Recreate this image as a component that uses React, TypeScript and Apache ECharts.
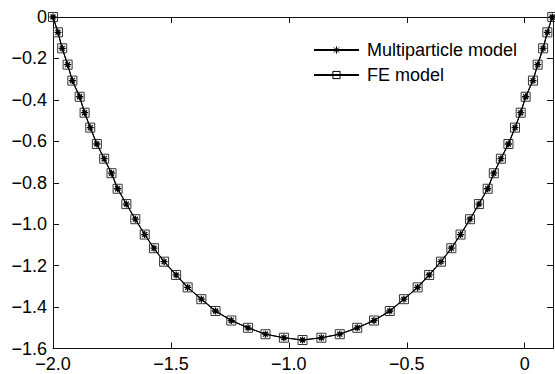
import React, { useEffect, useRef } from "react";
import * as echarts from "echarts";

// x positions (51 nodes along the curve)
const xValues = [
  -2.0, -1.979, -1.961, -1.938, -1.918, -1.887, -1.866, -1.842, -1.814, -1.783,
  -1.752, -1.726, -1.689, -1.651, -1.611, -1.572, -1.529, -1.478, -1.429, -1.371,
  -1.311, -1.244, -1.173, -1.099, -1.021, -0.942, -0.862, -0.784, -0.71, -0.639,
  -0.572, -0.512, -0.454, -0.405, -0.355, -0.311, -0.272, -0.232, -0.194, -0.157,
  -0.131, -0.101, -0.069, -0.041, -0.017, 0.004, 0.035, 0.055, 0.078, 0.096, 0.117,
];

// Multiparticle model deflection
const multiparticleY = [
  0, -0.074, -0.151, -0.23, -0.307, -0.385, -0.462, -0.534, -0.613, -0.684,
  -0.754, -0.829, -0.903, -0.976, -1.05, -1.116, -1.181, -1.245, -1.305, -1.362,
  -1.419, -1.465, -1.5, -1.531, -1.548, -1.559, -1.548, -1.531, -1.5, -1.465,
  -1.419, -1.362, -1.305, -1.245, -1.181, -1.116, -1.05, -0.976, -0.903, -0.829,
  -0.754, -0.684, -0.613, -0.534, -0.462, -0.385, -0.307, -0.23, -0.151, -0.074, 0,
];

// FE model deflection
const feY = [
  0, -0.074, -0.151, -0.23, -0.307, -0.385, -0.462, -0.534, -0.613, -0.684,
  -0.754, -0.829, -0.903, -0.976, -1.05, -1.116, -1.181, -1.245, -1.305, -1.362,
  -1.419, -1.465, -1.5, -1.531, -1.548, -1.559, -1.548, -1.531, -1.5, -1.465,
  -1.419, -1.362, -1.305, -1.245, -1.181, -1.116, -1.05, -0.976, -0.903, -0.829,
  -0.754, -0.684, -0.613, -0.534, -0.462, -0.385, -0.307, -0.23, -0.151, -0.074, 0,
];

const xTicks = [-2.0, -1.5, -1.0, -0.5, 0];
const seriesNames = ["Multiparticle model", "FE model"];

const FONT = "'Liberation Sans', Arial, sans-serif";
const AXIS_COLOR = "#111";

const fmt = (v: number) => {
  if (Math.abs(v) < 1e-9) return "0";
  return v.toFixed(1).replace("-", "\u2212");
};

const ASTERISK =
  "path://M5,0L5,10M0,5L10,5M1.5,1.5L8.5,8.5M8.5,1.5L1.5,8.5";

export default function App() {
  const ref = useRef<HTMLDivElement>(null);

  useEffect(() => {
    if (!ref.current) return;
    const chart = echarts.init(ref.current, undefined, { renderer: "svg" });

    const axisCommon = {
      axisLine: { show: true, onZero: false, lineStyle: { color: AXIS_COLOR, width: 1 } },
      axisTick: { show: true, inside: true, length: 6, lineStyle: { color: AXIS_COLOR, width: 1 } },
      splitLine: { show: false },
    };

    chart.setOption({
      animation: false,
      backgroundColor: "#fff",
      grid: { left: 53, right: 2, top: 17, bottom: 25.5, containLabel: false },
      legend: {
        orient: "vertical",
        left: 313,
        top: 41,
        padding: 0,
        itemWidth: 45,
        itemHeight: 9,
        itemGap: 7,
        data: seriesNames,
        itemStyle: { color: "rgba(0,0,0,0)", borderColor: "#000", borderWidth: 1 },
        textStyle: { fontSize: 18, fontFamily: FONT, color: "#000", padding: [0, 0, 0, 3] },
      },
      xAxis: [
        {
          type: "value",
          min: -2,
          max: 0.12,
          interval: 0.5,
          position: "bottom",
          ...axisCommon,
          axisLabel: {
            show: true,
            margin: 6,
            fontSize: 18,
            fontFamily: FONT,
            color: "#000",
            showMaxLabel: false,
            formatter: (v: number) =>
              xTicks.some((t) => Math.abs(t - v) < 1e-6) ? fmt(v) : "",
          },
        },
        {
          type: "value",
          min: -2,
          max: 0.12,
          interval: 0.5,
          position: "top",
          ...axisCommon,
          axisLabel: { show: false },
        },
      ],
      yAxis: [
        {
          type: "value",
          min: -1.6,
          max: 0,
          interval: 0.2,
          position: "left",
          ...axisCommon,
          axisLabel: {
            show: true,
            margin: 6,
            fontSize: 18,
            fontFamily: FONT,
            color: "#000",
            formatter: (v: number) => fmt(v),
          },
        },
        {
          type: "value",
          min: -1.6,
          max: 0,
          interval: 0.2,
          position: "right",
          ...axisCommon,
          axisLabel: { show: false },
        },
      ],
      series: [
        {
          name: seriesNames[0],
          type: "line",
          xAxisIndex: 0,
          yAxisIndex: 0,
          clip: false,
          data: xValues.map((x, i) => [x, multiparticleY[i]]),
          symbol: ASTERISK,
          symbolSize: 7,
          showAllSymbol: true,
          lineStyle: { color: "#000", width: 1.1 },
          itemStyle: { color: "rgba(0,0,0,0)", borderColor: "#000", borderWidth: 1.3 },
          z: 3,
        },
        {
          name: seriesNames[1],
          type: "line",
          xAxisIndex: 0,
          yAxisIndex: 0,
          clip: false,
          data: xValues.map((x, i) => [x, feY[i]]),
          symbol: "rect",
          symbolSize: 9,
          showAllSymbol: true,
          lineStyle: { color: "#000", width: 1 },
          itemStyle: { color: "rgba(0,0,0,0)", borderColor: "#333", borderWidth: 1 },
          z: 2,
        },
      ],
    });

    return () => chart.dispose();
  }, []);

  return (
    <div
      ref={ref}
      style={{ position: "fixed", left: 0, top: 0, width: 555, height: 374 }}
    />
  );
}
